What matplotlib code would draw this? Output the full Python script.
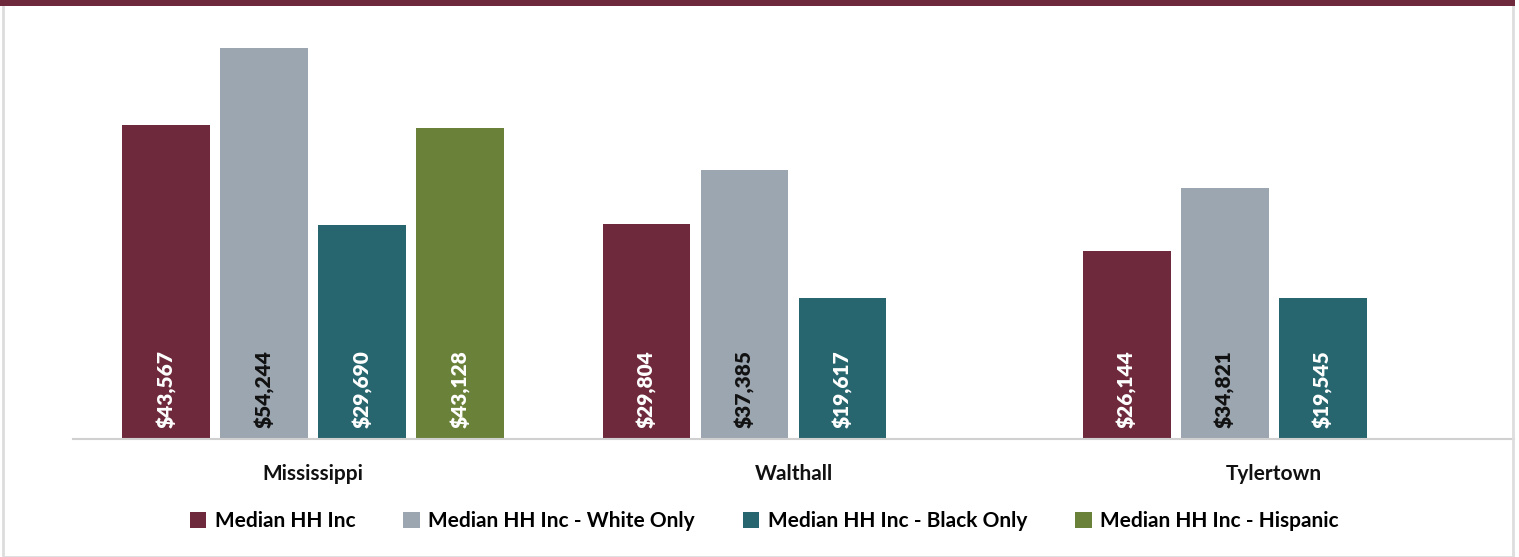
import matplotlib.pyplot as plt
from matplotlib.patches import Rectangle, Patch
import numpy as np

places = ["Mississippi", "Walthall", "Tylertown"]
series = ["Median HH Inc", "Median HH Inc - White Only",
          "Median HH Inc - Black Only", "Median HH Inc - Hispanic"]
median_all = [43567, 29804, 26144]
median_white = [54244, 37385, 34821]
median_black = [29690, 19617, 19545]
median_hisp = [43128, None, None]

colors = ["#6E2A3C", "#9CA6B0", "#27666E", "#6A8139"]
label_colors = ["white", "#111111", "white", "white"]

plt.rcParams['font.family'] = ['Lato', 'DejaVu Sans']

fig = plt.figure(figsize=(15.19, 5.57), dpi=100)
ax = fig.add_axes([73 / 1519, 118 / 557, 1441 / 1519, 418 / 557])

x = np.arange(len(places))
slot = 0.204
width = 0.183
values = [median_all, median_white, median_black, median_hisp]
for i, vals in enumerate(values):
    offs = (i - 1.5) * slot
    for j, v in enumerate(vals):
        if v is None:
            continue
        ax.bar(x[j] + offs, v, width=width, color=colors[i], zorder=2)
        ax.text(x[j] + offs, 1500, "${:,}".format(v), rotation=90,
                ha='center', va='bottom', color=label_colors[i],
                fontsize=15, fontweight='heavy', zorder=3)

ax.set_xlim(-0.5, 2.5)
ax.set_ylim(0, 58000)
ax.set_xticks(x)
ax.set_xticklabels(places, fontsize=15, fontweight='bold', color='#111111')
ax.tick_params(axis='x', length=0, pad=18)
ax.set_yticks([])
for s in ['top', 'right', 'left']:
    ax.spines[s].set_visible(False)
ax.spines['bottom'].set_color('#D0D0D0')
ax.spines['bottom'].set_linewidth(1.5)

handles = [Patch(facecolor=c, edgecolor='none') for c in colors]
fig.legend(handles, series, loc='center', bbox_to_anchor=(0.503, 1 - 521 / 557),
           ncol=4, frameon=False, handlelength=0.8, handleheight=0.8,
           handletextpad=0.4, columnspacing=2.3,
           prop={'size': 15, 'weight': 'bold'})

# outer frame: maroon top band, light gray sides
fig.add_artist(Rectangle((3 / 1519, 0), 1510 / 1519, 1, transform=fig.transFigure,
                         fill=False, edgecolor='#DDDDDD', linewidth=2))
fig.add_artist(Rectangle((0, 1 - 6 / 557), 1515 / 1519, 6 / 557, transform=fig.transFigure,
                         facecolor='#6E2A3C', edgecolor='none'))

fig.savefig("out.png", dpi=100)
